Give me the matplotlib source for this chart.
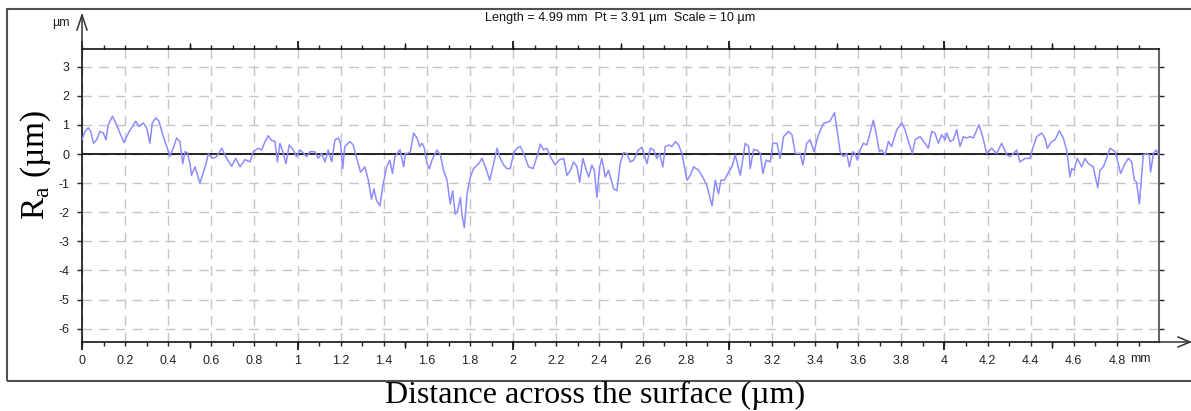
import numpy as np
import matplotlib.pyplot as plt
from matplotlib.lines import Line2D
from matplotlib.patches import Rectangle

plt.rcParams['font.family'] = ['Liberation Sans', 'DejaVu Sans']
plt.rcParams['mathtext.fontset'] = 'custom'
plt.rcParams['mathtext.rm'] = 'Liberation Serif'

# surface profile: distance (mm) and height (um)
dist_mm = [
    0.000, 0.014, 0.029, 0.040, 0.053, 0.068, 0.083, 0.099, 0.111, 0.122,
    0.141, 0.161, 0.176, 0.195, 0.215, 0.230, 0.249, 0.264, 0.284, 0.300,
    0.315, 0.326, 0.342, 0.357, 0.377, 0.393, 0.408, 0.423, 0.439, 0.454,
    0.467, 0.478, 0.488, 0.501, 0.508, 0.524, 0.547, 0.566, 0.575, 0.586,
    0.597, 0.609, 0.624, 0.648, 0.671, 0.694, 0.713, 0.733, 0.756, 0.779,
    0.794, 0.818, 0.833, 0.849, 0.864, 0.879, 0.895, 0.906, 0.918, 0.934,
    0.946, 0.961, 0.980, 0.995, 1.011, 1.029, 1.042, 1.057, 1.080, 1.096,
    1.111, 1.127, 1.142, 1.158, 1.173, 1.189, 1.199, 1.209, 1.219, 1.243,
    1.258, 1.274, 1.292, 1.312, 1.328, 1.343, 1.354, 1.366, 1.382, 1.394,
    1.413, 1.428, 1.440, 1.451, 1.475, 1.492, 1.500, 1.510, 1.523, 1.538,
    1.554, 1.566, 1.577, 1.588, 1.600, 1.612, 1.623, 1.646, 1.662, 1.677,
    1.693, 1.708, 1.719, 1.731, 1.742, 1.755, 1.762, 1.773, 1.786, 1.801,
    1.816, 1.840, 1.855, 1.871, 1.891, 1.909, 1.925, 1.940, 1.956, 1.971,
    1.986, 2.002, 2.017, 2.033, 2.051, 2.071, 2.092, 2.110, 2.126, 2.141,
    2.156, 2.172, 2.195, 2.211, 2.234, 2.249, 2.265, 2.280, 2.296, 2.308,
    2.323, 2.339, 2.350, 2.365, 2.376, 2.388, 2.401, 2.411, 2.427, 2.442,
    2.466, 2.481, 2.496, 2.512, 2.527, 2.543, 2.558, 2.581, 2.597, 2.620,
    2.636, 2.651, 2.666, 2.679, 2.694, 2.705, 2.721, 2.736, 2.752, 2.767,
    2.782, 2.806, 2.821, 2.837, 2.860, 2.883, 2.898, 2.922, 2.937, 2.952,
    2.963, 2.979, 2.999, 3.014, 3.030, 3.053, 3.076, 3.092, 3.099, 3.115,
    3.130, 3.146, 3.158, 3.173, 3.192, 3.204, 3.223, 3.238, 3.254, 3.277,
    3.293, 3.308, 3.331, 3.343, 3.361, 3.377, 3.395, 3.415, 3.439, 3.469,
    3.490, 3.504, 3.516, 3.531, 3.547, 3.559, 3.575, 3.585, 3.596, 3.609,
    3.624, 3.640, 3.655, 3.670, 3.686, 3.698, 3.709, 3.725, 3.740, 3.755,
    3.779, 3.802, 3.817, 3.833, 3.851, 3.864, 3.887, 3.910, 3.925, 3.941,
    3.956, 3.972, 3.987, 4.003, 4.010, 4.026, 4.041, 4.057, 4.072, 4.088,
    4.103, 4.119, 4.134, 4.160, 4.177, 4.196, 4.219, 4.242, 4.265, 4.289,
    4.304, 4.320, 4.335, 4.350, 4.374, 4.397, 4.412, 4.428, 4.451, 4.466,
    4.477, 4.497, 4.513, 4.533, 4.551, 4.567, 4.582, 4.590, 4.601, 4.616,
    4.636, 4.652, 4.667, 4.690, 4.711, 4.721, 4.737, 4.752, 4.768, 4.791,
    4.806, 4.817, 4.837, 4.853, 4.868, 4.881, 4.891, 4.904, 4.922, 4.938,
    4.950, 4.956, 4.969, 4.981, 4.995,
]
height_um = [
    0.49, 0.78, 0.90, 0.78, 0.37, 0.49, 0.78, 0.72, 0.49, 1.00,
    1.30, 1.00, 0.72, 0.40, 0.72, 0.90, 1.13, 0.95, 1.07, 0.90,
    0.37, 1.07, 1.24, 1.13, 0.60, 0.26, -0.07, 0.20, 0.55, 0.43,
    -0.33, 0.08, 0.05, -0.33, -0.73, -0.44, -1.00, -0.56, -0.33, 0.00,
    -0.09, -0.15, -0.09, 0.20, -0.15, -0.42, -0.15, -0.44, -0.19, -0.27,
    0.08, 0.20, 0.14, 0.43, 0.63, 0.47, 0.43, -0.27, 0.37, 0.02,
    -0.33, 0.31, 0.14, -0.09, 0.14, 0.02, -0.09, 0.08, 0.08, -0.15,
    0.02, -0.27, 0.14, -0.27, 0.49, 0.55, 0.37, -0.50, 0.26, 0.43,
    0.31, -0.15, -0.62, -0.44, -0.90, -1.55, -1.20, -1.60, -1.78, -1.14,
    -0.44, -0.21, -0.67, -0.09, 0.15, -0.44, 0.02, 0.02, 0.08, 0.72,
    0.55, 0.26, 0.37, 0.20, -0.33, -0.50, -0.21, 0.14, -0.03, -0.56,
    -0.90, -1.72, -1.26, -2.07, -1.95, -1.49, -2.07, -2.53, -1.37, -0.79,
    -0.50, -0.33, -0.15, -0.44, -0.90, -0.33, 0.20, -0.15, -0.38, -0.50,
    -0.50, 0.02, 0.20, 0.26, -0.03, -0.44, -0.50, -0.09, 0.34, 0.14,
    0.20, -0.09, -0.38, -0.21, -0.15, -0.73, -0.56, -0.27, -0.44, -0.97,
    -0.15, -0.56, -0.79, -0.38, -0.56, -1.49, -0.44, -0.15, -0.79, -0.56,
    -1.20, -1.26, -0.33, 0.05, 0.02, -0.27, -0.21, 0.14, 0.23, -0.33,
    0.20, 0.14, -0.15, 0.02, -0.44, 0.26, 0.31, 0.26, 0.43, 0.31,
    0.02, -0.90, -0.73, -0.44, -0.56, -0.85, -1.08, -1.78, -0.90, -1.37,
    -0.90, -0.90, -0.62, -0.44, -0.03, -0.73, 0.37, 0.26, -0.50, 0.16,
    0.14, 0.02, -0.67, -0.21, -0.27, 0.37, 0.37, -0.15, 0.60, 0.78,
    0.66, 0.02, 0.02, -0.38, 0.37, 0.49, 0.08, 0.66, 1.05, 1.13,
    1.42, 0.72, 0.08, -0.09, 0.02, -0.44, 0.08, 0.02, -0.21, 0.14,
    0.37, 0.31, 0.72, 1.16, 0.60, 0.08, 0.14, -0.03, 0.43, 0.26,
    0.84, 1.07, 0.84, 0.43, 0.02, 0.49, 0.60, 0.37, 0.20, 0.78,
    0.72, 0.37, 0.66, 0.49, 0.72, 0.43, 0.49, 0.84, 0.26, 0.60,
    0.55, 0.60, 0.55, 1.01, 0.60, 0.02, 0.20, 0.02, 0.37, -0.03,
    -0.09, 0.02, 0.14, -0.27, -0.15, -0.15, 0.26, 0.60, 0.72, 0.55,
    0.20, 0.43, 0.49, 0.80, 0.55, 0.14, -0.79, -0.50, -0.56, -0.15,
    -0.44, -0.15, -0.33, -0.44, -1.16, -0.56, -0.44, -0.15, 0.20, 0.08,
    -0.33, -0.67, -0.33, -0.15, -0.27, -0.90, -0.97, -1.72, -0.03, 0.02,
    -0.03, -0.62, 0.02, 0.14, -0.03,
]

x_ticks = [0, 0.2, 0.4, 0.6, 0.8, 1, 1.2, 1.4, 1.6, 1.8, 2, 2.2, 2.4,
           2.6, 2.8, 3, 3.2, 3.4, 3.6, 3.8, 4, 4.2, 4.4, 4.6, 4.8]
x_tick_labels = ['0', '0.2', '0.4', '0.6', '0.8', '1', '1.2', '1.4', '1.6',
                 '1.8', '2', '2.2', '2.4', '2.6', '2.8', '3', '3.2', '3.4',
                 '3.6', '3.8', '4', '4.2', '4.4', '4.6', '4.8']
y_ticks = [-6, -5, -4, -3, -2, -1, 0, 1, 2, 3]

W, H = 1191, 411
fig = plt.figure(figsize=(W / 100, H / 100), dpi=100)
ax = fig.add_axes([82 / W, 1 - 342 / H, (1159 - 82) / W, (342 - 49) / H])

ax.plot(dist_mm, height_um, color='#8c8cff', lw=1.1, zorder=3)
ax.axhline(0, color='black', lw=1.2, zorder=2)

ax.set_xlim(0, 4.995)
ax.set_ylim(-6.46, 3.61)
ax.set_xticks(x_ticks, x_tick_labels)
ax.set_xticks(np.arange(0, 5.0, 0.1), minor=True)
ax.set_yticks(y_ticks, [str(v) for v in y_ticks])
ax.grid(True, which='major', ls=(0, (7, 5)), color='#c6c6c6', lw=1, zorder=1)

ax.tick_params(axis='x', which='both', bottom=True, top=True, direction='out',
               length=2.6, width=1, labelsize=9, pad=6.5, colors='#222222')
ax.tick_params(axis='y', which='major', left=True, right=True, direction='out',
               length=3.6, width=1, labelsize=9, pad=5.5, colors='#222222')

# longer marks at half and whole mm
for side in ['bottom', 'top']:
    sec = ax.secondary_xaxis(side)
    sec.set_xticks([0, 1, 2, 3, 4], [''] * 5)
    sec.set_xticks([0.5, 1.5, 2.5, 3.5, 4.5], minor=True)
    sec.tick_params(which='major', length=6, width=1.2, direction='out')
    sec.tick_params(which='minor', length=4, width=1, direction='out')
    sec.spines[side].set_visible(False)

for s in ['left', 'bottom', 'top']:
    ax.spines[s].set_linewidth(1.1)
ax.spines['right'].set_color('#666666')
ax.spines['right'].set_linewidth(1.5)

# axis arrows
ax_col = '#333333'
fig.add_artist(Line2D([82 / W, 82 / W], [1 - 49 / H, 1 - 15 / H], color=ax_col, lw=1.1))
fig.add_artist(Line2D([77 / W, 82 / W, 87 / W], [1 - 30 / H, 1 - 15 / H, 1 - 30 / H],
                      color=ax_col, lw=1.1))
fig.add_artist(Line2D([1159 / W, 1190 / W], [1 - 342 / H, 1 - 342 / H], color=ax_col, lw=1.1))
fig.add_artist(Line2D([1178 / W, 1190 / W, 1178 / W], [1 - 337 / H, 1 - 342 / H, 1 - 347 / H],
                      color=ax_col, lw=1.1))

# outer frame
fig.add_artist(Rectangle((7 / W, 1 - 381 / H), 1.1, (381 - 9) / H, fill=False,
                         edgecolor='#505050', lw=1.5, transform=fig.transFigure))

fig.text(52 / W, 1 - 23 / H, 'µm', ha='left', va='center', fontsize=9, color='#222222')
fig.text(1130 / W, 1 - 359 / H, 'mm', ha='left', va='center', fontsize=9, color='#222222')
fig.text(620 / W, 1 - 18 / H, 'Length = 4.99 mm  Pt = 3.91 µm  Scale = 10 µm',
         ha='center', va='center', fontsize=9.1, color='#111111')

fig.text(36 / W, 1 - 165 / H, r'R$_{\mathrm{a}}$ (µm)', rotation=90, ha='center', va='center',
         fontsize=24, family='Liberation Serif')
fig.text(595 / W, 1 - 395 / H, 'Distance across the surface (µm)', ha='center', va='center',
         fontsize=23, family='Liberation Serif')

fig.savefig('out.png', dpi=100)
